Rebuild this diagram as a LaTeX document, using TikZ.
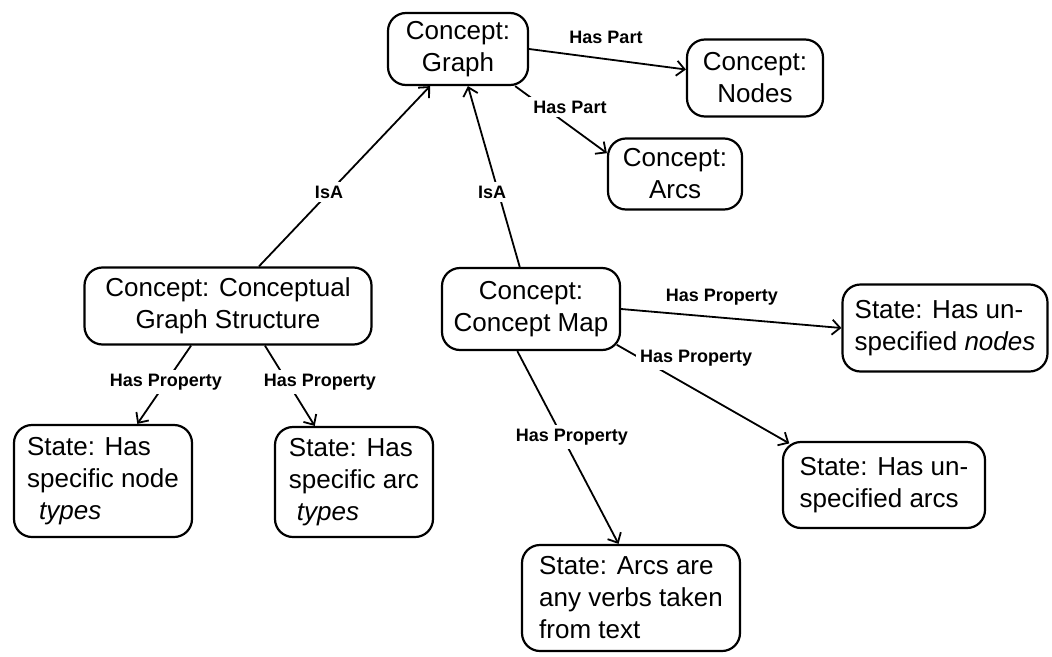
\documentclass[tikz,border=0pt]{standalone}
\usepackage{fontspec}
\setmainfont{Liberation Sans}
\usetikzlibrary{arrows.meta}
\begin{document}
\begin{tikzpicture}[x=1pt,y=-1pt,
  cbox/.style={draw, line width=2.2pt, rounded corners=18pt, align=center, inner sep=0pt,
    font=\fontsize{26}{32}\selectfont},
  sbox/.style={cbox, align=left},
  edge/.style={line width=1.8pt, -{Straight Barb[length=8pt,width=15pt,line width=1.8pt]}},
  lbl/.style={fill=white, inner sep=4pt, font=\bfseries\fontsize{18}{20}\selectfont}]
\useasboundingbox[fill=white] (0,0) rectangle (1052,656);

\node[cbox, minimum width=140pt, minimum height=72pt] (graph) at (458,49) {Concept:\\Graph};
\node[cbox, minimum width=136pt, minimum height=77pt] (nodes) at (755,78) {Concept:\\Nodes};
\node[cbox, minimum width=134pt, minimum height=71pt] (arcs) at (675,174) {Concept:\\Arcs};
\node[cbox, minimum width=287pt, minimum height=77pt] (cgs) at (228,306) {Concept: Conceptual\\Graph Structure};
\node[cbox, minimum width=178pt, minimum height=82pt] (cmap) at (531,309) {Concept:\\Concept Map};
\node[sbox, minimum width=205pt, minimum height=87pt] (unodes) at (945,328) {State: Has un-\\specified \textit{nodes}};
\node[sbox, minimum width=178pt, minimum height=112pt] (ntypes) at (103,481) {State: Has\\specific node\\\hspace*{12pt}\textit{types}};
\node[sbox, minimum width=158pt, minimum height=110pt] (atypes) at (354,482) {State: Has\\specific arc\\\hspace*{8pt}\textit{types}};
\node[sbox, minimum width=202pt, minimum height=86pt] (uarcs) at (884,485) {State: Has un-\\specified arcs};
\node[sbox, minimum width=218pt, minimum height=106pt] (verbs) at (631,598) {State: Arcs are\\any verbs taken\\from text};

\draw[edge] (graph.east) -- (nodes.173);
\draw[edge] (graph.-33) -- (arcs.163);
\draw[edge] (cgs.52.6) -- (graph.233.6);
\draw[edge] (cmap.105) -- (graph.-75);
\draw[edge] (cgs.227) -- (ntypes.59.6);
\draw[edge] (cgs.-47.7) -- (atypes.125.3);
\draw[edge] (cmap.east) -- (unodes.west);
\draw[edge, shorten <=-5pt, shorten >=-5pt] (cmap.-23) -- (uarcs.156);
\draw[edge] (cmap.252.4) -- (verbs.103.5);

\node[lbl, fill=none] (l1) at (606,37) {Has Part};
\node[lbl] (l2) at (570,107) {Has Part};
\node[lbl] (l3) at (329,192) {IsA};
\node[lbl] (l4) at (492,192) {IsA};
\node[lbl] (l5) at (166,382) {Has Property};
\node[lbl] (l6) at (320,382) {Has Property};
\node[lbl, fill=none] (l7) at (722,297) {Has Property};
\node[lbl, anchor=west] (l8) at (636,358) {Has Property};
\node[lbl] (l9) at (572,437) {Has Property};
\end{tikzpicture}
\end{document}
